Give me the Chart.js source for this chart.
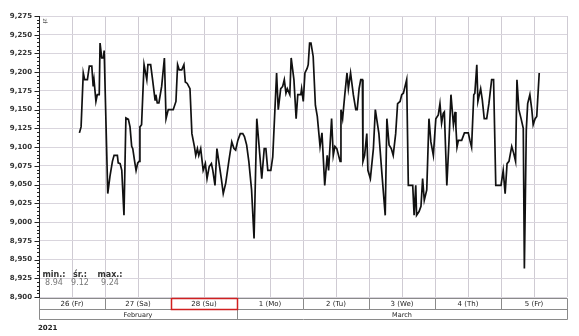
<!DOCTYPE html>
<html><head><meta charset="utf-8">
<script src="https://cdn.jsdelivr.net/npm/chart.js@4/dist/chart.umd.min.js"></script>
<style>html,body{margin:0;padding:0;background:#fff;}canvas{display:block;}</style>
</head><body>
<canvas id="c" width="579" height="336"></canvas>
<script>
// hours since 26 Feb 2021 00:00
const hours = [14.7,15.3,16.1,16.6,17.6,18.3,19.2,19.7,20.0,20.7,21.2,21.9,22.2,22.8,23.4,23.7,
25.0,25.8,26.7,27.3,28.5,28.8,29.5,30.1,30.9,31.6,32.5,33.1,33.7,34.1,34.9,35.3,35.9,36.4,36.7,37.3,
38.2,39.2,39.6,40.6,41.3,42.2,42.5,43.0,43.6,44.6,45.6,46.2,47.0,48.8,49.8,50.4,51.0,51.9,52.7,53.2,
53.9,54.9,55.6,56.5,57.0,57.6,58.1,58.8,59.7,60.5,61.1,61.9,62.7,63.2,64.0,64.7,65.5,66.3,67.0,67.9,
69.1,70.1,70.9,71.5,72.3,73.2,74.1,74.7,75.5,76.3,77.3,78.2,79.2,79.7,81.0,81.9,82.5,83.2,84.3,85.0,
86.4,87.0,87.9,88.6,89.2,89.8,90.3,91.2,91.7,92.7,93.5,94.1,95.2,95.5,96.1,96.7,97.5,97.9,98.4,98.9,
99.7,100.5,101.2,102.2,102.9,103.9,104.8,105.3,106.4,107.0,107.6,108.3,109.5,109.8,110.4,111.2,112.0,
112.5,113.3,114.3,115.2,115.7,116.4,117.0,117.6,117.8,118.4,119.2,119.6,120.5,121.6,122.3,123.6,124.6,
125.9,126.5,127.3,128.1,128.8,129.7,130.4,131.3,131.9,132.5,133.1,133.7,134.3,135.9,136.4,137.0,137.3,
138.2,138.9,139.5,140.1,141.0,141.8,142.5,143.4,144.3,145.2,145.8,146.4,147.0,147.4,148.3,149.1,149.8,
150.7,151.3,151.6,152.0,152.5,153.7,154.7,156.1,156.7,157.3,158.1,158.5,159.2,159.6,160.6,161.2,161.9,
162.8,163.6,164.6,165.3,166.1,168.0,168.8,169.5,170.2,170.9,171.9,172.6,173.3,173.8,174.5,175.3,176.1,
176.5,177.2,177.7,178.5,179.2,179.7,180.4,181.0,181.9];
const values = [9.119,9.127,9.199,9.190,9.190,9.208,9.208,9.181,9.190,9.161,9.170,9.170,9.239,9.219,9.219,9.229,
9.038,9.061,9.081,9.089,9.089,9.079,9.078,9.069,9.009,9.139,9.137,9.127,9.101,9.098,9.078,9.069,9.079,9.081,9.127,9.130,
9.210,9.190,9.210,9.210,9.190,9.163,9.170,9.159,9.159,9.181,9.219,9.138,9.150,9.150,9.161,9.210,9.203,9.203,9.210,9.187,
9.185,9.178,9.118,9.101,9.089,9.098,9.089,9.098,9.069,9.078,9.058,9.074,9.078,9.069,9.049,9.098,9.078,9.058,9.038,9.052,
9.083,9.107,9.098,9.096,9.109,9.118,9.118,9.114,9.103,9.081,9.043,8.978,9.138,9.116,9.058,9.098,9.098,9.069,9.069,9.087,
9.199,9.150,9.178,9.181,9.190,9.172,9.178,9.170,9.219,9.190,9.138,9.170,9.170,9.178,9.161,9.199,9.205,9.210,9.239,9.239,
9.221,9.156,9.141,9.101,9.119,9.049,9.089,9.069,9.138,9.089,9.101,9.098,9.081,9.150,9.138,9.170,9.199,
9.178,9.199,9.170,9.150,9.150,9.178,9.190,9.190,9.081,9.089,9.118,9.069,9.058,9.098,9.150,9.118,9.069,
9.009,9.138,9.103,9.098,9.089,9.118,9.158,9.161,9.170,9.172,9.181,9.190,9.049,9.049,9.009,9.049,9.009,
9.014,9.021,9.058,9.029,9.043,9.138,9.107,9.089,9.138,9.143,9.158,9.132,9.145,9.147,9.049,9.109,9.170,
9.130,9.147,9.127,9.100,9.109,9.109,9.119,9.119,9.109,9.100,9.170,9.172,9.210,9.161,9.178,9.163,9.138,
9.138,9.158,9.190,9.190,9.049,9.049,9.069,9.038,9.078,9.081,9.101,9.092,9.081,9.190,9.150,9.138,9.125,
8.938,9.123,9.158,9.170,9.150,9.130,9.138,9.141,9.199];
const dayLabels = ['26 (Fr)','27 (Sa)','28 (Su)','1 (Mo)','2 (Tu)','3 (We)','4 (Th)','5 (Fr)'];
const monthLabels = ['February','March'];
const monthDays = [3,5];
const highlightDay = 2;
const yearLabel = '2021';
const statLabels = ['min.:','śr.:','max.:'];
const statValues = ['8.94','9.12','9.24'];
const unitLabel = 'zł';

const FONT = '"DejaVu Sans", Verdana, sans-serif';
const points = hours.map((h,i)=>({x:h,y:values[i]}));

const overlay = {
  id:'overlay',
  afterDraw(chart){
    const ctx = chart.ctx, xs = chart.scales.x, ys = chart.scales.y;
    const L = Math.round(xs.getPixelForValue(0)), R = Math.round(xs.getPixelForValue(dayLabels.length*24));
    const B = Math.round(ys.getPixelForValue(8.9));
    ctx.save();
    // y axis line + ruler ticks
    ctx.strokeStyle = '#222'; ctx.lineWidth = 1;
    ctx.beginPath(); ctx.moveTo(L+0.5, ys.top); ctx.lineTo(L+0.5, B+1); ctx.stroke();
    for (let i=0;i<=75;i++){
      const v = 8.9 + i*0.005;
      const y = Math.round(ys.getPixelForValue(v))+0.5;
      const len = (i%5===0)?5:2.5;
      ctx.beginPath(); ctx.moveTo(L+0.5-len,y); ctx.lineTo(L+0.5,y); ctx.stroke();
    }
    // unit label
    ctx.save();
    ctx.translate(L+6, ys.top+5);
    ctx.rotate(Math.PI/2);
    ctx.fillStyle='#555'; ctx.font='6px '+FONT; ctx.textAlign='center'; ctx.textBaseline='middle';
    ctx.fillText(unitLabel,0,0);
    ctx.restore();
    // stats
    const statX = [54, 80, 110];
    ctx.textAlign='center'; ctx.textBaseline='alphabetic';
    statLabels.forEach((s,i)=>{
      ctx.fillStyle='#333'; ctx.font='bold 8px '+FONT; ctx.fillText(s, statX[i], B-20);
      ctx.fillStyle='#777'; ctx.font='8px '+FONT; ctx.fillText(statValues[i], statX[i], B-12);
    });
    // table
    const r1t = B+1.5, r1b = B+12.5, r2b = B+22.5;
    ctx.strokeStyle='#8a8a8a'; ctx.lineWidth=1;
    ctx.beginPath();
    ctx.moveTo(L+0.5,r1t); ctx.lineTo(R+0.5,r1t);
    ctx.moveTo(L+0.5,r1b); ctx.lineTo(R+0.5,r1b);
    ctx.moveTo(L+0.5,r2b); ctx.lineTo(R+0.5,r2b);
    ctx.moveTo(L+0.5,r1t); ctx.lineTo(L+0.5,r2b);
    ctx.moveTo(R+0.5,r1t); ctx.lineTo(R+0.5,r2b);
    for (let d=1; d<dayLabels.length; d++){
      const x = Math.round(xs.getPixelForValue(d*24))+0.5;
      ctx.moveTo(x,r1t); ctx.lineTo(x,r1b);
    }
    let acc=0;
    monthDays.forEach((n,i)=>{ acc+=n; if(i<monthDays.length-1){ const x=Math.round(xs.getPixelForValue(acc*24))+0.5; ctx.moveTo(x,r1b); ctx.lineTo(x,r2b);} });
    ctx.stroke();
    // highlight
    const hx0 = Math.round(xs.getPixelForValue(highlightDay*24))+0.5, hx1 = Math.round(xs.getPixelForValue((highlightDay+1)*24))+0.5;
    ctx.strokeStyle='#d02020'; ctx.lineWidth=1.5;
    ctx.strokeRect(hx0, r1t, hx1-hx0, r1b-r1t);
    // day labels
    ctx.fillStyle='#222'; ctx.font='7px '+FONT; ctx.textAlign='center'; ctx.textBaseline='middle';
    dayLabels.forEach((t,d)=>{
      const cx = xs.getPixelForValue(d*24+12);
      ctx.fillText(t, cx, (r1t+r1b)/2+0.5);
    });
    acc=0;
    ctx.font='6.5px '+FONT;
    monthLabels.forEach((t,i)=>{
      const cx = xs.getPixelForValue((acc+monthDays[i]/2)*24); acc+=monthDays[i];
      ctx.fillText(t, cx, (r1b+r2b)/2+0.5);
    });
    ctx.font='bold 7px '+FONT; ctx.textAlign='left'; ctx.fillStyle='#222';
    ctx.fillText(yearLabel, 38, B+31);
    ctx.restore();
  }
};

new Chart(document.getElementById('c'), {
  type:'line',
  data:{datasets:[{data:points, borderColor:'#111', borderWidth:1.7, pointRadius:0, tension:0, fill:false}]},
  options:{
    responsive:false, animation:false, devicePixelRatio:1,
    layout:{padding:{left:0,right:12,top:16,bottom:0}},
    plugins:{legend:{display:false}, tooltip:{enabled:false}},
    scales:{
      x:{type:'linear', min:0, max:192, afterFit(s){s.height=39;},
        ticks:{display:false, stepSize:12},
        grid:{color:'#cfcbd3', lineWidth:1, drawTicks:false},
        border:{display:false}},
      y:{type:'linear', min:8.9, max:9.275, afterFit(s){s.width=39;},
        ticks:{stepSize:0.0125, padding:7, color:'#333', font:{family:FONT, size:7, weight:'bold'},
          callback(v){ const k=Math.round(v*10000); return (k%250===0)? v.toFixed(3).replace('.',','):''; }},
        grid:{color:'#d9d5dd', lineWidth:1, drawTicks:false},
        border:{display:false}}
    }
  },
  plugins:[overlay]
});
</script>
</body></html>
